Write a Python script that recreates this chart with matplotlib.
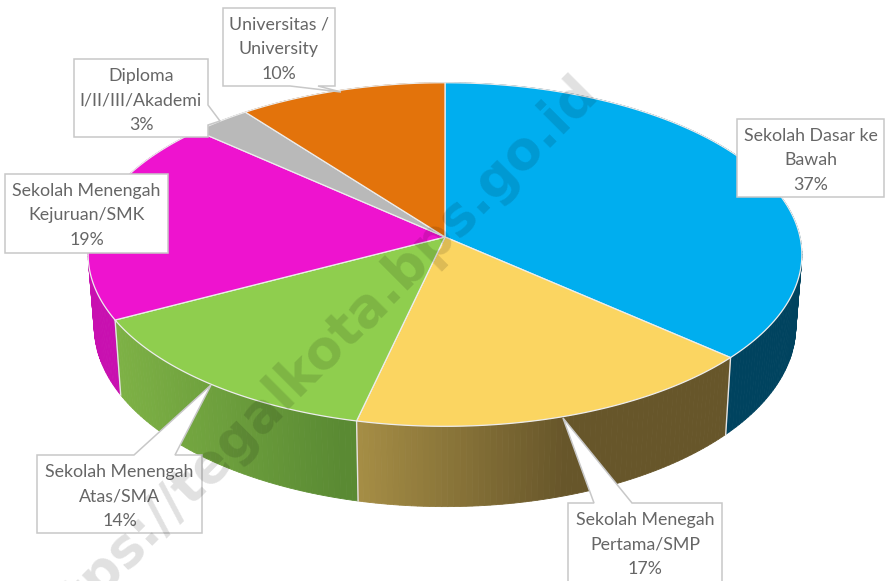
import numpy as np
import matplotlib
matplotlib.use("Agg")
import matplotlib.pyplot as plt
from matplotlib.colors import to_rgb

# data
categories = ["Sekolah Dasar ke\nBawah", "Sekolah Menegah\nPertama/SMP", "Sekolah Menengah\nAtas/SMA",
              "Sekolah Menengah\nKejuruan/SMK", "Diploma\nI/II/III/Akademi", "Universitas /\nUniversity"]
values = [36.5, 17.1, 13.7, 19.3, 3.0, 10.4]
value_labels = ["37%", "17%", "14%", "19%", "3%", "10%"]
top_colors = ["#00AEEF", "#FBD561", "#8FCE4E", "#EE13CF", "#B9B9B9", "#E3730B"]
side_left = ["#00435F", "#A58D45", "#7DB145", "#C810B0", "#8A8A8A", "#A85508"]
side_right = ["#00435F", "#67562A", "#5A8A33", "#C810B0", "#8A8A8A", "#A85508"]
watermark = "https://tegalkota.bps.go.id"

# (left, top, right, bottom), pointer base, pointer tip
boxes = [
    ((737, 119, 884, 197), None, None),
    ((568, 503, 722, 590), ("h", 594, 632), (563, 418)),
    ((37, 455, 202, 533), ("h", 134, 175), (211, 385)),
    ((5, 174, 168, 253), None, None),
    ((74, 59, 208, 137), ("v", 105, 125), (220, 121)),
    ((223, 8, 335, 86), ("h", 290, 318), (341, 92)),
]

W, H = 887, 581
fig = plt.figure(figsize=(W / 100, H / 100), dpi=100)
ax = fig.add_axes([0, 0, 1, 1])
ax.set_xlim(0, W)
ax.set_ylim(H, 0)
ax.axis("off")

CX, CY, A, B, K = 445, 237, 355, 170, 0.102


def top_rim(theta):
    u, v = np.sin(theta), np.cos(theta)
    w = 1 + K * v
    return CX + A * u / w, CY - B * v / w


def bottom_rim(theta):
    x, y = top_rim(theta)
    return CX + 0.983 * (x - CX), 311 + (y - 240) * 1.05


fr = np.array(values, float) / sum(values)
edges = np.concatenate([[0], np.cumsum(fr)]) * 2 * np.pi

# sides, back to front
segs = []
for i in range(len(values)):
    th = np.linspace(edges[i], edges[i + 1], int(fr[i] * 400) + 2)
    for a, b in zip(th[:-1], th[1:]):
        segs.append((i, a, b))
segs.sort(key=lambda s: top_rim((s[1] + s[2]) / 2)[1])
for i, a, b in segs:
    xa, ya = top_rim(a); xb, yb = top_rim(b)
    xc, yc = bottom_rim(b); xd, yd = bottom_rim(a)
    lo, hi = {1: (360, 565), 2: (120, 340)}.get(i, (0, 1))
    t = np.clip(((xa + xb) / 2 - lo) / (hi - lo), 0, 1)
    col = (1 - t) * np.array(to_rgb(side_left[i])) + t * np.array(to_rgb(side_right[i]))
    ax.fill([xa, xb, xc, xd], [ya, yb, yc, yd], color=col, lw=0.6, zorder=2)

# white seams on the visible side edges
for e in edges[1:4]:
    xa, ya = top_rim(e); xb, yb = bottom_rim(e)
    ax.plot([xa, xb], [ya, yb], color="#E4E4E4", lw=1.0, zorder=3)

# top surface
for i in range(len(values)):
    th = np.linspace(edges[i], edges[i + 1], 120)
    x, y = top_rim(th)
    ax.fill(np.r_[CX, x], np.r_[CY, y], facecolor=top_colors[i], edgecolor="#EDEDED", lw=0.9, zorder=4)

# callouts
for (l, t, r, b), base, tip in boxes:
    if base is None:
        px, py = [l, r, r, l], [t, t, b, b]
    elif base[0] == "h" and tip[1] < t:
        px = [l, base[1], tip[0], base[2], r, r, l]
        py = [t, t, tip[1], t, t, b, b]
    elif base[0] == "h":
        px = [l, r, r, base[2], tip[0], base[1], l]
        py = [t, t, b, b, tip[1], b, b]
    else:
        px = [l, r, r, tip[0], r, r, l]
        py = [t, t, base[1], tip[1], base[2], b, b]
    ax.fill(px, py, facecolor="white", edgecolor="#C8C8C8", lw=1.1, zorder=5, joinstyle="miter")

for (l, t, r, b), name, lab in zip([c[0] for c in boxes], categories, value_labels):
    for k, s in enumerate(name.split("\n") + [lab]):
        ax.text((l + r) / 2, t + 17 + k * 24.3, s, ha="center", va="center", family="Lato",
                fontsize=12.8, color="#666666", zorder=6)

ax.text(308, 365, watermark, rotation=45, rotation_mode="anchor", ha="center", va="center",
        family="DejaVu Sans", fontweight="bold", fontsize=38, color="black", alpha=0.12, zorder=7,
        clip_on=True)

fig.savefig("out.png", dpi=100)
